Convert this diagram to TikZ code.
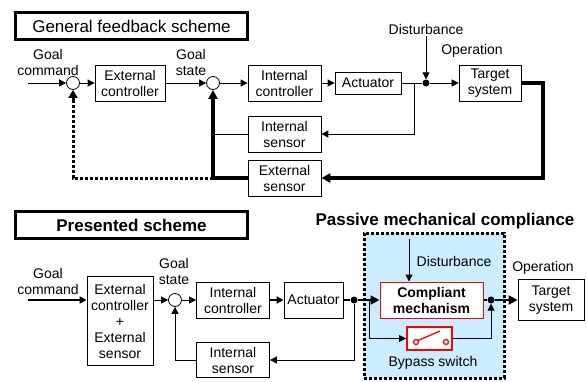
\documentclass[tikz,border=0pt]{standalone}
\usepackage{fontspec}
\setmainfont{Liberation Sans}
\usetikzlibrary{arrows.meta}
\definecolor{paleblue}{RGB}{204,236,255}
\definecolor{redline}{RGB}{255,0,0}
\tikzset{
  blk/.style={draw,line width=0.8pt,align=center,inner sep=0pt,minimum width=73pt,minimum height=36pt},
  sumc/.style={draw,circle,line width=0.8pt,minimum size=13pt,inner sep=0pt},
  dotc/.style={fill,circle,minimum size=7pt,inner sep=0pt},
  txt/.style={align=center,inner sep=0pt},
  heading/.style={draw,line width=2.5pt,minimum width=232pt,minimum height=27pt,inner sep=0pt,font=\fontsize{17}{20}\selectfont},
  arr/.style={-{Triangle[length=7pt,width=7pt]},line width=1pt},
  bigarr/.style={-{Triangle[length=9pt,width=9pt]}},
  dotline/.style={line width=3pt,dash pattern=on 3pt off 2pt}
}

\begin{document}
\begin{tikzpicture}[x=1pt,y=-1pt,font=\fontsize{14}{16}\selectfont]
   \useasboundingbox (0,0) rectangle (586,381);

   \draw (131.5,26) node[heading] (title1) {General feedback scheme};
   \draw (48,62) node[txt] (gc1) {Goal\\command};
   \coordinate (in1) at (28,83);
   \draw (73,83) node[sumc] (s1) {};
   \draw (130,83) node[blk,minimum width=70pt] (ec1) {External\\controller};
   \draw (191,62) node[txt] (gs1) {Goal\\state};
   \draw (213,83) node[sumc] (s2) {};
   \draw (284.5,83) node[blk] (ic1) {Internal\\controller};
   \draw (368,83) node[blk,minimum width=66pt,minimum height=22pt] (act1) {Actuator};
   \coordinate (j1) at (414,83);
   \draw (426,83) node[dotc] (d1) {};
   \draw (426,29) node[txt] (dist1) {Disturbance};
   \coordinate (dtop1) at (426,36);
   \draw (472,51) node[txt] (op1) {Operation};
   \draw (490,83) node[blk,minimum width=62pt] (ts1) {Target\\system};
   \coordinate (c1) at (543,83);
   \draw (284.5,134) node[blk] (is1) {Internal\\sensor};
   \draw (284.5,178) node[blk] (es1) {External\\sensor};
   \coordinate (fb1) at (213,178);
   \coordinate (fb2) at (73,102);

   \draw[arr] (in1) -- (s1);
   \draw[arr] (s1) -- (ec1);
   \draw[arr] (ec1) -- (s2);
   \draw[arr] (s2) -- (ic1);
   \draw[arr] (ic1) -- (act1);
   \draw[line width=1pt] (act1) -- (d1);
   \draw[arr] (dtop1) -- (d1);
   \draw[arr] (d1) -- (ts1);
   \draw[arr] (j1) |- (is1);
   \draw[line width=1pt] (is1.west) -- (is1.west -| fb1);
   \draw[line width=4pt,bigarr] (ts1) -- (c1) |- (es1);
   \draw[line width=4pt] (es1) -- (fb1);
   \draw[line width=3.5pt,bigarr] (fb1) -- (s2);
   \draw[dotline] (fb1) -| (fb2);
   \draw[line width=3pt,-{Triangle[length=8pt,width=9pt]}] (fb2) -- (s1);

   \draw (131.5,225) node[heading,font=\fontsize{17}{20}\selectfont\bfseries] (title2) {Presented scheme};
   \draw (434,305.5) node[draw,fill=paleblue,dotline,minimum width=140pt,minimum height=145pt] (pmcbox) {};
   \draw (445,221) node[txt,font=\fontsize{17}{20}\selectfont\bfseries] (pmc) {Passive mechanical compliance};
   \draw (48,281) node[txt] (gc2) {Goal\\command};
   \coordinate (in2) at (28,300);
   \draw (120,321) node[blk,minimum width=66pt,minimum height=89pt,text depth=0pt] (big) {External\\controller\\+\\External\\sensor};
   \draw (174,271) node[txt] (gs2) {Goal\\state};
   \draw (175,300) node[sumc] (s3) {};
   \draw (233,300) node[blk] (ic2) {Internal\\controller};
   \draw (313.5,300) node[blk,minimum width=59pt] (act2) {Actuator};
   \draw (354,300) node[dotc] (d2) {};
   \coordinate (br) at (369,300);
   \draw (233,360) node[blk,minimum height=35pt] (is2) {Internal\\sensor};
   \draw (454,261) node[txt] (dist2) {Disturbance};
   \coordinate (dtop2) at (409,239);
   \draw (431.5,300) node[blk,draw=redline,line width=1pt,fill=white,minimum width=103pt,font=\fontsize{14}{16}\selectfont\bfseries] (cm) {Compliant\\mechanism};
   \draw (491,300) node[dotc] (d3) {};
   \draw (543,268) node[txt] (op2) {Operation};
   \draw (551,300) node[blk,minimum width=66pt,minimum height=41pt] (ts2) {Target\\system};
   \draw (429.5,338.5) node[draw=redline,line width=2pt,fill=white,minimum width=45pt,minimum height=23pt] (sw) {};
   \coordinate (swa) at (416,342);
   \coordinate (swb) at (446,342);
   \draw[redline,line width=1.3pt] (swa) circle (2.5) (swb) circle (2.5);
   \draw[redline,line width=1.3pt] (418,340.5) -- (440,331);
   \draw (433,363) node[txt] (bps) {Bypass switch};

   \draw[arr,line width=2pt] (in2) -- (in2 -| big.west);
   \draw[arr] (s3 -| big.east) -- (s3);
   \draw[arr] (s3) -- (ic2);
   \draw[arr,line width=2.5pt] (ic2) -- (act2);
   \draw[line width=2pt] (act2) -- (d2);
   \draw[line width=2pt,bigarr] (d2) -- (cm);
   \draw[arr] (br) |- (sw);
   \draw[arr] (dtop2) -- (dtop2 |- cm.north);
   \draw[line width=2pt] (cm) -- (d3);
   \draw[line width=2pt,bigarr] (d3) -- (ts2);
   \draw[arr] (sw) -| (d3);
   \draw[arr] (d2) |- (is2);
   \draw[arr] (is2) -| (s3);
\end{tikzpicture}
\end{document}
